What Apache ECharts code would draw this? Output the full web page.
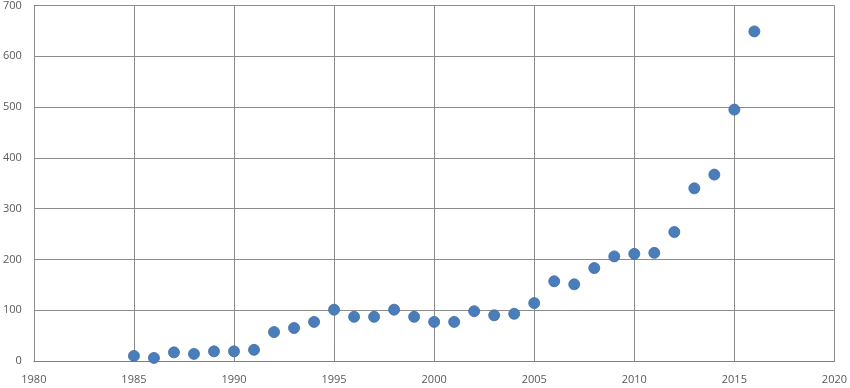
<!DOCTYPE html>
<html><head><meta charset="utf-8">
<script src="https://cdn.jsdelivr.net/npm/echarts@6/dist/echarts.min.js"></script>
<style>html,body{margin:0;padding:0;background:#fff}#c{width:850px;height:388px}</style>
</head><body><div id="c"></div>
<script>
const years = [1985,1986,1987,1988,1989,1990,1991,1992,1993,1994,1995,1996,1997,1998,1999,2000,2001,2002,2003,2004,2005,2006,2007,2008,2009,2010,2011,2012,2013,2014,2015,2016];
const values = [10,6,17,14,19,19,22,57,65,77,101,87,87,101,87,77,77,98,90,93,114,157,151,183,206,211,213,254,340,367,495,649];
const chart = echarts.init(document.getElementById('c'));
chart.setOption({
  animation:false,
  grid:{left:33,right:14,top:5.5,bottom:27,containLabel:false},
  xAxis:{type:'value',min:1980,max:2020,interval:5,
    axisLine:{show:true,lineStyle:{color:'#7f7f7f'}},axisTick:{show:false},
    axisLabel:{color:'#595959',fontFamily:'Open Sans',fontSize:11,margin:13,formatter:v=>String(v)},
    splitLine:{show:true,lineStyle:{color:'#8c8c8c',width:1}}},
  yAxis:{type:'value',min:0,max:700,interval:100,
    axisLine:{show:false},axisTick:{show:false},
    axisLabel:{color:'#595959',fontFamily:'Open Sans',fontSize:11,margin:12,formatter:v=>String(v)},
    splitLine:{show:true,lineStyle:{color:'#8c8c8c',width:1}}},
  series:[{type:'scatter',symbolSize:11,
    itemStyle:{color:'#4a7ebb',borderColor:'#3d6aa3',borderWidth:0.8,opacity:1},
    data:years.map((y,i)=>[y,values[i]])}]
});
</script></body></html>
